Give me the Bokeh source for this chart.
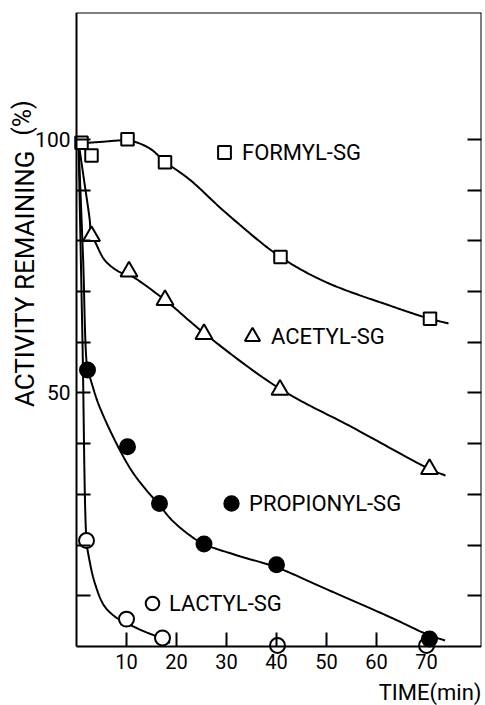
import numpy as np
from bokeh.plotting import figure
from bokeh.models import Range1d, LinearAxis, FixedTicker, Label, Legend, LegendItem
from bokeh.embed import file_html
from bokeh.resources import INLINE

# ---- data ----
formyl_t = [1.0, 3.0, 10.2, 17.7, 40.8, 70.7]
formyl_a = [99.3, 96.8, 100.0, 95.5, 76.8, 64.6]
acetyl_t = [3.0, 10.5, 17.7, 25.5, 40.7, 70.6]
acetyl_a = [80.9, 73.9, 68.3, 61.6, 50.6, 35.0]
propionyl_t = [2.2, 10.2, 16.6, 25.5, 40.0, 70.6]
propionyl_a = [54.5, 39.4, 28.2, 20.2, 16.1, 1.5]
lactyl_t = [2.0, 10.0, 17.2, 40.2, 70.0]
lactyl_a = [20.9, 5.4, 1.7, 0.2, 0.2]

# hand-drawn fitted curves
formyl_curve_t = [1.0, 5.0, 10.2, 12.0, 14.8, 17.7, 22.7, 30.0, 40.8, 50.0, 62.7, 70.7, 74.4]
formyl_curve_a = [99.2, 99.5, 99.8, 99.4, 98.1, 95.6, 92.0, 85.4, 76.8, 71.8, 67.2, 64.6, 63.7]
acetyl_curve_t = [0.4, 1.5, 2.6, 3.0, 3.8, 5.7, 8.7, 10.5, 17.7, 25.5, 40.7, 55.0, 70.6, 73.8]
acetyl_curve_a = [99.5, 92.0, 84.5, 81.0, 79.6, 76.1, 73.8, 73.3, 68.3, 61.8, 50.8, 43.3, 35.0, 33.7]
propionyl_curve_t = [0.4, 1.3, 2.2, 2.7, 4.4, 7.7, 11.0, 14.0, 16.5, 19.0, 22.7, 25.5, 32.0, 40.0, 50.0, 62.7, 70.6, 73.7]
propionyl_curve_a = [99.5, 77.0, 54.5, 53.0, 47.8, 40.6, 34.7, 30.8, 28.0, 25.0, 21.9, 20.2, 18.0, 15.6, 11.3, 5.8, 2.2, 1.2]
lactyl_curve_t = [0.4, 1.2, 2.0, 2.4, 3.7, 5.7, 8.7, 10.0, 13.0, 17.2, 18.7]
lactyl_curve_a = [99.5, 60.0, 20.9, 18.0, 12.4, 7.8, 5.2, 4.6, 3.2, 1.5, 0.7]

x_ticks = [10, 20, 30, 40, 50, 60, 70]
y_ticks = [10, 20, 30, 40, 50, 60, 70, 80, 90, 100]
y_labels = {50: "50", 100: "100"}
x_max = 81
y_max = 125

series_names = ["FORMYL-SG", "ACETYL-SG", "PROPIONYL-SG", "LACTYL-SG"]
x_title = "TIME(min)"
y_title = "ACTIVITY REMAINING"
y_unit = "(%)"


def smooth(xs, ys, n=24):
    """centripetal Catmull-Rom through traced curve points (drawing only)"""
    P = np.column_stack([xs, ys]).astype(float)
    P = np.vstack([2 * P[0] - P[1], P, 2 * P[-1] - P[-2]])
    out = []
    for i in range(1, len(P) - 2):
        p0, p1, p2, p3 = P[i - 1], P[i], P[i + 1], P[i + 2]
        t0 = 0.0
        t1 = t0 + np.linalg.norm(p1 - p0) ** 0.5 + 1e-9
        t2 = t1 + np.linalg.norm(p2 - p1) ** 0.5 + 1e-9
        t3 = t2 + np.linalg.norm(p3 - p2) ** 0.5 + 1e-9
        t = np.linspace(t1, t2, n)[:, None]
        a1 = (t1 - t) / (t1 - t0) * p0 + (t - t0) / (t1 - t0) * p1
        a2 = (t2 - t) / (t2 - t1) * p1 + (t - t1) / (t2 - t1) * p2
        a3 = (t3 - t) / (t3 - t2) * p2 + (t - t2) / (t3 - t2) * p3
        b1 = (t2 - t) / (t2 - t0) * a1 + (t - t0) / (t2 - t0) * a2
        b2 = (t3 - t) / (t3 - t1) * a2 + (t - t1) / (t3 - t1) * a3
        c = (t2 - t) / (t2 - t1) * b1 + (t - t1) / (t2 - t1) * b2
        out.append(c if i == 1 else c[1:])
    c = np.vstack(out)
    return c[:, 0], c[:, 1]


FONT = "Roboto"

# frame covers the whole canvas; axes are placed at fixed data locations
p = figure(width=485, height=705, output_backend="svg", toolbar_location=None,
           x_range=Range1d(-15.2, x_max), y_range=Range1d(-11.63, y_max),
           min_border_left=0, min_border_right=4, min_border_top=12, min_border_bottom=0,
           background_fill_color="white", border_fill_color="white")
p.grid.visible = False
p.outline_line_color = None

xa = p.xaxis[0]
xa.fixed_location = 0
xa.bounds = (0, x_max)
xa.ticker = FixedTicker(ticks=x_ticks)
ya = p.yaxis[0]
ya.fixed_location = 0
ya.bounds = (0, y_max)
ya.ticker = FixedTicker(ticks=y_ticks)
ya.major_label_overrides = {t: y_labels.get(t, "") for t in y_ticks}

ra = LinearAxis(ticker=FixedTicker(ticks=y_ticks), fixed_location=x_max,
                major_label_overrides={t: "" for t in y_ticks}, bounds=(0, y_max))
ta = LinearAxis(ticker=FixedTicker(ticks=[]), fixed_location=y_max, bounds=(0, x_max))
p.add_layout(ra, "right")
p.add_layout(ta, "above")

for ax in (xa, ya, ra, ta):
    ax.axis_line_color = "black"
    ax.axis_line_width = 2
    ax.major_tick_in = 14
    ax.major_tick_out = 0
    ax.major_tick_line_width = 2
    ax.major_tick_line_color = "black"
    ax.minor_tick_line_color = None
    ax.major_label_text_font = FONT
    ax.major_label_text_color = "black"
xa.major_label_text_font_size = "20px"
xa.major_label_standoff = 7
ya.major_label_text_font_size = "21px"
ya.major_label_standoff = 6
ra.major_label_standoff = 0
ra.major_label_text_font_size = "0px"
ta.major_label_standoff = 0
ta.major_label_text_font_size = "0px"
ta.major_tick_line_color = None

LW = 2
for ct, ca in ((formyl_curve_t, formyl_curve_a), (acetyl_curve_t, acetyl_curve_a),
               (propionyl_curve_t, propionyl_curve_a), (lactyl_curve_t, lactyl_curve_a)):
    sx, sy = smooth(ct, ca)
    p.line(sx, sy, line_color="black", line_width=LW)

r_lac = p.scatter(lactyl_t, lactyl_a, marker="circle", size=15, fill_color="white",
                  line_color="black", line_width=LW)
r_pro = p.scatter(propionyl_t, propionyl_a, marker="circle", size=15, fill_color="black",
                  line_color="black", line_width=LW)
r_ace = p.scatter(acetyl_t, acetyl_a, marker="triangle", size=17, fill_color="white",
                  line_color="black", line_width=LW)
r_for = p.scatter(formyl_t, formyl_a, marker="square", size=12.5, fill_color="white",
                  line_color="black", line_width=LW)

# in-plot series labels (one legend per series, placed where the picture has it)
specs = [
    (r_for, series_names[0], (208, 537), 32, 2),
    (r_ace, series_names[1], (233, 350), 38, 0),
    (r_pro, series_names[2], (213, 184), 36, 0),
    (r_lac, series_names[3], (135, 85), 34, 0),
]
for r, name, loc, g, st in specs:
    lg = Legend(items=[LegendItem(label=name, renderers=[r])], location=loc,
                glyph_width=g, glyph_height=g, label_standoff=st, padding=0, margin=0,
                spacing=0, background_fill_alpha=0, border_line_color=None,
                label_text_font=FONT, label_text_font_size="22px", label_text_color="black")
    p.add_layout(lg, "center")

p.add_layout(Label(x=-10.4, y=72.5, text=y_title, angle=np.pi / 2, text_align="center",
                   text_baseline="middle", text_font=FONT, text_font_size="26px",
                   text_color="black"))
p.add_layout(Label(x=-10.9, y=104.2, text=y_unit, angle=np.pi / 2, text_align="center",
                   text_baseline="middle", text_font=FONT, text_font_size="25px",
                   text_color="black"))
p.add_layout(Label(x=x_max, y=-9.0, text=x_title, text_align="right",
                   text_baseline="middle", text_font=FONT, text_font_size="22px",
                   text_color="black"))

open("out.html", "w").write(file_html(p, INLINE))
